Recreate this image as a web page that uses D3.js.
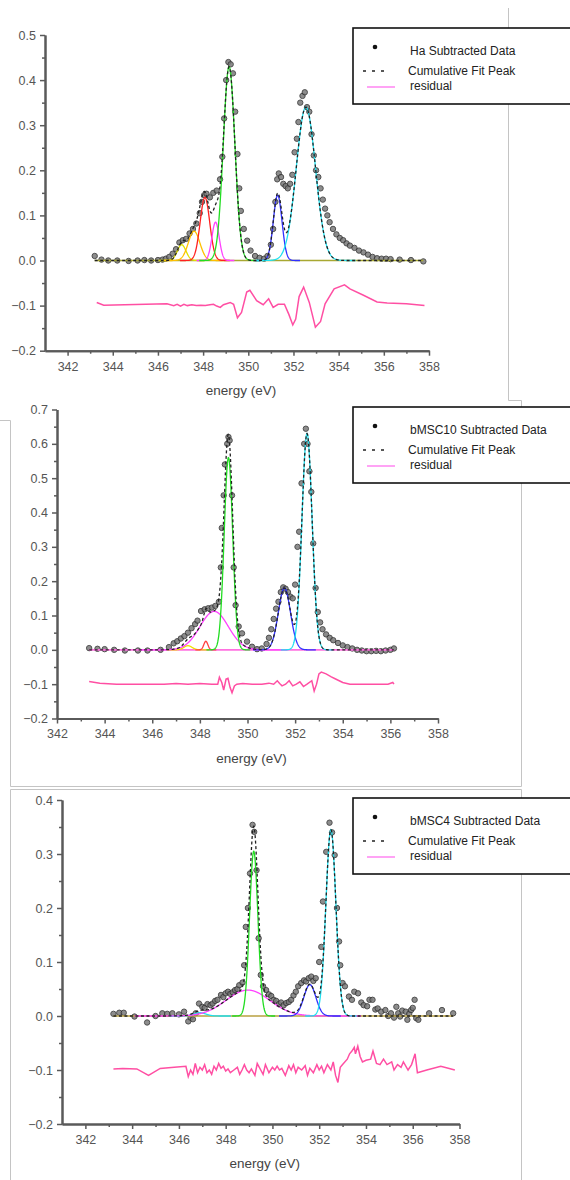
<!DOCTYPE html>
<html><head><meta charset="utf-8">
<script src="https://cdn.jsdelivr.net/npm/d3@7"></script>
<style>
body{margin:0;background:#fff;}
svg{display:block;font-family:"Liberation Sans",Arial,sans-serif;}
</style></head>
<body>
<svg id="c" width="570" height="1180"></svg>
<script>
// ---------- DATA ----------
const xTicks = [342,344,346,348,350,352,354,356,358];
const yTicks1 = [-0.2,-0.1,0.0,0.1,0.2,0.3,0.4,0.5];
const yTicks2 = [-0.2,-0.1,0.0,0.1,0.2,0.3,0.4,0.5,0.6,0.7];
const yTicks3 = [-0.2,-0.1,0.0,0.1,0.2,0.3,0.4];
const legendNames = ["Ha Subtracted Data","bMSC10 Subtracted Data","bMSC4 Subtracted Data"];
const legendFit = "Cumulative Fit Peak";
const legendRes = "residual";
const axisTitle = "energy (eV)";

// panel 1 : Ha  [energy, intensity]
const data1 = [[343.2,0.01],[343.5,0.002],[343.8,0],[344.2,0],[344.7,-0.001],[345.1,0],[345.4,0.001],[345.7,0],[346.0,0.001],[346.2,0.002],[346.35,0.004],[346.5,0.008],[346.65,0.015],[346.8,0.025],[346.95,0.04],[347.1,0.045],[347.25,0.048],[347.4,0.06],[347.55,0.07],[347.7,0.082],[347.85,0.105],[347.95,0.13],[348.05,0.145],[348.15,0.148],[348.3,0.14],[348.45,0.15],[348.6,0.155],[348.75,0.18],[348.85,0.23],[348.93,0.315],[349.02,0.4],[349.12,0.44],[349.22,0.435],[349.32,0.415],[349.42,0.33],[349.52,0.236],[349.6,0.16],[349.67,0.11],[349.8,0.07],[349.95,0.044],[350.1,0.022],[350.3,0.01],[350.5,0.006],[350.7,0.004],[350.85,0.01],[351.0,0.035],[351.1,0.07],[351.2,0.13],[351.28,0.18],[351.35,0.193],[351.45,0.185],[351.55,0.17],[351.65,0.165],[351.75,0.16],[351.85,0.17],[351.95,0.19],[352.05,0.24],[352.15,0.27],[352.22,0.307],[352.3,0.35],[352.4,0.365],[352.5,0.373],[352.6,0.34],[352.7,0.33],[352.8,0.28],[352.9,0.233],[353.0,0.2],[353.1,0.185],[353.2,0.16],[353.3,0.135],[353.4,0.115],[353.5,0.1],[353.6,0.085],[353.75,0.07],[353.9,0.058],[354.05,0.05],[354.2,0.045],[354.35,0.038],[354.5,0.033],[354.7,0.028],[354.9,0.022],[355.1,0.018],[355.3,0.013],[355.5,0.008],[355.7,0.005],[355.9,0.004],[356.1,0.004],[356.3,0.003],[356.7,0.002],[357.2,0.001],[357.75,-0.002]];
// fitted peaks [center, height, fwhm]
const peaks1 = [[347.05,0.035,0.45],[347.6,0.065,0.6],[348.08,0.14,0.5],[348.55,0.085,0.38],[349.15,0.43,0.6],[351.3,0.145,0.45],[352.55,0.34,1.0]];
const peakColors1 = ["#e0e000","#ffc000","#ff2020","#ff40ff","#22dd22","#3030ff","#20e0f0"];
const resid1 = [[343.29,-0.093],[343.6,-0.099],[346.4,-0.096],[346.7,-0.1],[346.85,-0.097],[347.0,-0.101],[347.15,-0.097],[347.3,-0.1],[347.5,-0.098],[347.7,-0.1],[347.9,-0.099],[348.1,-0.1],[348.3,-0.098],[348.46,-0.097],[348.6,-0.101],[348.76,-0.104],[348.9,-0.098],[349.2,-0.093],[349.35,-0.097],[349.52,-0.127],[349.7,-0.115],[349.93,-0.07],[350.07,-0.066],[350.37,-0.089],[350.66,-0.098],[350.9,-0.085],[351.1,-0.104],[351.32,-0.097],[351.6,-0.097],[351.8,-0.12],[351.97,-0.143],[352.1,-0.13],[352.25,-0.08],[352.45,-0.059],[352.7,-0.093],[352.97,-0.148],[353.2,-0.135],[353.4,-0.096],[353.8,-0.063],[354.26,-0.054],[354.5,-0.063],[355.1,-0.077],[355.7,-0.092],[356.15,-0.094],[357.0,-0.096],[357.8,-0.1]];

// panel 2 : bMSC10
const data2 = [[343.35,0.005],[343.7,0.003],[344.0,0.002],[344.4,0],[344.85,-0.002],[345.4,-0.002],[345.8,-0.002],[346.35,0],[346.7,0.008],[346.9,0.019],[347.05,0.025],[347.2,0.033],[347.35,0.04],[347.5,0.05],[347.65,0.063],[347.8,0.075],[347.9,0.085],[348.05,0.113],[348.2,0.118],[348.35,0.121],[348.5,0.123],[348.65,0.128],[348.8,0.14],[348.88,0.24],[348.92,0.355],[349.0,0.45],[349.05,0.54],[349.15,0.6],[349.2,0.62],[349.25,0.61],[349.35,0.45],[349.42,0.24],[349.5,0.13],[349.63,0.068],[349.77,0.048],[349.98,0.024],[350.19,0.009],[350.4,0.002],[350.6,0.004],[350.8,0.017],[350.9,0.035],[351.0,0.06],[351.1,0.09],[351.2,0.12],[351.3,0.14],[351.4,0.168],[351.5,0.182],[351.6,0.178],[351.7,0.168],[351.8,0.155],[351.9,0.15],[352.0,0.19],[352.1,0.3],[352.17,0.344],[352.27,0.485],[352.38,0.6],[352.45,0.644],[352.52,0.6],[352.6,0.52],[352.68,0.46],[352.76,0.31],[352.86,0.18],[352.95,0.11],[353.05,0.08],[353.15,0.06],[353.3,0.045],[353.45,0.035],[353.6,0.028],[353.8,0.02],[354.0,0.013],[354.2,0.008],[354.4,0.004],[354.6,0],[354.8,-0.002],[355.0,-0.004],[355.2,-0.004],[355.4,-0.003],[355.6,-0.004],[355.8,-0.002],[356.0,0],[356.15,0.004]];
const peaks2 = [[347.5,0.012,0.4],[348.25,0.025,0.2],[348.6,0.112,1.4],[349.2,0.56,0.42],[351.55,0.18,0.6],[352.5,0.63,0.5]];
const peakColors2 = ["#f0e000","#ff4040","#ff40ff","#22dd22","#3030ff","#20e0f0"];
const resid2 = [[343.35,-0.092],[343.8,-0.097],[344.5,-0.1],[345.5,-0.1],[346.5,-0.1],[347.0,-0.098],[347.5,-0.1],[348.0,-0.098],[348.5,-0.1],[348.75,-0.1],[348.82,-0.08],[348.92,-0.095],[349.0,-0.117],[349.1,-0.085],[349.18,-0.083],[349.27,-0.11],[349.35,-0.125],[349.45,-0.105],[349.55,-0.1],[349.8,-0.098],[350.2,-0.1],[350.6,-0.1],[350.9,-0.097],[351.1,-0.1],[351.25,-0.09],[351.35,-0.098],[351.45,-0.105],[351.6,-0.1],[351.75,-0.09],[351.9,-0.105],[352.05,-0.1],[352.2,-0.093],[352.35,-0.107],[352.5,-0.1],[352.7,-0.09],[352.8,-0.12],[352.9,-0.1],[353.0,-0.07],[353.1,-0.065],[353.3,-0.07],[353.5,-0.078],[353.7,-0.085],[354.0,-0.095],[354.3,-0.1],[354.6,-0.1],[355.0,-0.1],[355.5,-0.1],[355.9,-0.1],[356.1,-0.095],[356.15,-0.1]];

// panel 3 : bMSC4
const data3 = [[343.2,0.004],[343.45,0.006],[343.64,0.006],[344.1,-0.001],[344.64,-0.012],[345.0,0],[345.29,0.005],[345.5,0.004],[345.72,0.005],[346.0,0.003],[346.22,0.008],[346.4,-0.01],[346.5,-0.003],[346.6,-0.006],[346.72,0.005],[346.86,0.023],[347.0,0.017],[347.1,0.015],[347.22,0.022],[347.35,0.02],[347.44,0.023],[347.55,0.028],[347.65,0.03],[347.8,0.039],[347.9,0.035],[348.0,0.042],[348.1,0.045],[348.2,0.041],[348.3,0.044],[348.4,0.048],[348.5,0.05],[348.58,0.057],[348.72,0.062],[348.79,0.094],[348.86,0.165],[348.95,0.2],[349.04,0.264],[349.15,0.354],[349.22,0.341],[349.32,0.27],[349.41,0.144],[349.5,0.076],[349.6,0.055],[349.73,0.048],[349.85,0.04],[349.95,0.037],[350.05,0.03],[350.16,0.028],[350.27,0.022],[350.37,0.025],[350.48,0.02],[350.59,0.024],[350.7,0.026],[350.8,0.03],[350.9,0.038],[351.0,0.045],[351.1,0.055],[351.23,0.061],[351.35,0.066],[351.44,0.064],[351.55,0.07],[351.66,0.073],[351.75,0.065],[351.85,0.07],[352.0,0.1],[352.09,0.128],[352.16,0.212],[352.3,0.304],[352.44,0.358],[352.55,0.34],[352.66,0.298],[352.76,0.2],[352.85,0.138],[352.9,0.094],[353.0,0.061],[353.1,0.055],[353.27,0.036],[353.4,0.03],[353.5,0.045],[353.66,0.042],[353.8,0.025],[353.9,0.02],[354.05,0.018],[354.15,0.03],[354.28,0.03],[354.4,0.012],[354.5,0.014],[354.65,0.008],[354.83,0.011],[354.95,0],[355.07,0.005],[355.2,-0.003],[355.3,0.017],[355.38,0.005],[355.46,-0.001],[355.55,0.01],[355.7,0.008],[355.77,-0.007],[355.85,0.004],[355.93,0.011],[356.0,0.015],[356.08,0.03],[356.15,-0.004],[356.24,-0.007],[356.7,0.005],[357.25,0.011],[357.73,0.005]];
const peaks3 = [[346.9,0.006,0.6],[348.95,0.048,2.2],[349.2,0.305,0.42],[351.6,0.058,0.6],[352.5,0.345,0.5]];
const peakColors3 = ["#20e0f0","#ff40ff","#22dd22","#3030ff","#20e0f0"];
const resid3 = [[343.2,-0.098],[343.6,-0.097],[344.2,-0.098],[344.7,-0.11],[345.2,-0.097],[345.8,-0.095],[346.3,-0.093],[346.4,-0.112],[346.5,-0.1],[346.6,-0.108],[346.7,-0.088],[346.8,-0.105],[346.9,-0.095],[347.0,-0.1],[347.1,-0.09],[347.2,-0.105],[347.3,-0.1],[347.4,-0.108],[347.5,-0.093],[347.6,-0.1],[347.7,-0.088],[347.8,-0.097],[347.9,-0.093],[348.0,-0.102],[348.1,-0.098],[348.2,-0.105],[348.35,-0.1],[348.5,-0.095],[348.6,-0.108],[348.7,-0.1],[348.8,-0.09],[348.9,-0.1],[349.0,-0.105],[349.1,-0.098],[349.25,-0.11],[349.35,-0.088],[349.5,-0.1],[349.6,-0.108],[349.7,-0.09],[349.85,-0.105],[350.0,-0.095],[350.1,-0.1],[350.2,-0.093],[350.3,-0.1],[350.4,-0.097],[350.55,-0.11],[350.7,-0.092],[350.8,-0.1],[350.9,-0.09],[351.0,-0.105],[351.1,-0.095],[351.25,-0.1],[351.4,-0.092],[351.5,-0.11],[351.6,-0.097],[351.75,-0.105],[351.9,-0.09],[352.0,-0.1],[352.1,-0.093],[352.2,-0.105],[352.35,-0.09],[352.5,-0.1],[352.6,-0.085],[352.7,-0.11],[352.8,-0.123],[352.9,-0.095],[353.0,-0.09],[353.2,-0.08],[353.3,-0.07],[353.4,-0.065],[353.5,-0.058],[353.55,-0.07],[353.65,-0.056],[353.75,-0.075],[353.85,-0.085],[354.0,-0.082],[354.2,-0.08],[354.3,-0.065],[354.45,-0.088],[354.6,-0.09],[354.75,-0.08],[354.9,-0.09],[355.1,-0.085],[355.2,-0.1],[355.35,-0.09],[355.5,-0.095],[355.6,-0.085],[355.8,-0.1],[355.95,-0.09],[356.1,-0.07],[356.2,-0.105],[356.6,-0.1],[357.2,-0.093],[357.8,-0.1]];

// ---------- DRAW ----------
const svg = d3.select("#c");
const gauss = (p, x) => p[1] * Math.exp(-4 * Math.LN2 * (x - p[0]) ** 2 / (p[2] * p[2]));

// image frames (screenshot borders)
const frame = svg.append("g").attr("fill","none").attr("stroke","#c4c4c4").attr("stroke-width",1);
frame.append("path").attr("d","M508.5,8 V400.5 H521.5 V786.5 H10.5 V420.5 H0");
frame.append("path").attr("d","M10.5,1180 V789.5 H521.5 V1180");

function panel(cfg){
  const {data, peaks, colors, resid, x0, x1, xd0, y0, y1, yd1, yTicks, base, leg, name} = cfg;
  const x = d3.scaleLinear().domain([xd0,358]).range([x0,x1]);
  const y = d3.scaleLinear().domain([-0.2,yd1]).range([y0,y1]);
  const g = svg.append("g");
  const xmin = d3.min(data,d=>d[0]), xmax = d3.max(data,d=>d[0]);

  // axes
  const xa = g.append("g").attr("transform",`translate(0,${y0})`)
    .call(d3.axisBottom(x).tickValues(xTicks).tickSize(5).tickSizeOuter(0).tickPadding(6).tickFormat(d3.format("d")));
  const xm = g.append("g").attr("transform",`translate(0,${y0})`)
    .call(d3.axisBottom(x).tickValues(d3.range(343,358,2)).tickSize(3).tickSizeOuter(0).tickFormat(""));
  const ya = g.append("g").attr("transform",`translate(${x0},0)`)
    .call(d3.axisLeft(y).tickValues(yTicks).tickSize(5).tickSizeOuter(0).tickPadding(4).tickFormat(d3.format(".1f")));
  const ym = g.append("g").attr("transform",`translate(${x0},0)`)
    .call(d3.axisLeft(y).tickValues(yTicks.slice(0,-1).map(v=>+(v+0.05).toFixed(2))).tickSize(3).tickSizeOuter(0).tickFormat(""));
  [xa,xm,ya,ym].forEach(a=>{
    a.select(".domain").attr("stroke","#5a5a5a").attr("stroke-width",2);
    a.selectAll(".tick line").attr("stroke","#5a5a5a").attr("stroke-width",1.5);
    a.selectAll("text").attr("fill","#555").attr("font-size",12.5).attr("font-family","Liberation Sans, Arial, sans-serif");
  });
  g.append("text").attr("x",(x0+x1)/2 + 4).attr("y",y0+44).attr("text-anchor","middle")
    .attr("font-size",13.5).attr("fill","#444").text(axisTitle);

  // data points
  g.append("g").selectAll("circle").data(data).join("circle")
    .attr("cx",d=>x(d[0])).attr("cy",d=>y(d[1])).attr("r",2.7)
    .attr("fill","#7a7a7a").attr("stroke","#333").attr("stroke-width",1).attr("opacity",0.85);

  // baseline
  g.append("line").attr("x1",x(xmin)).attr("x2",x(xmax)).attr("y1",y(0)).attr("y2",y(0))
    .attr("stroke",base).attr("stroke-width",1.6);

  // components
  const line = d3.line().x(d=>x(d[0])).y(d=>y(d[1]));
  peaks.forEach((p,i)=>{
    const lo = Math.max(xmin, p[0]-2.2*p[2]), hi = Math.min(xmax, p[0]+2.2*p[2]);
    const pts = d3.range(lo, hi+1e-9, 0.01).map(e=>[e, gauss(p,e)]);
    g.append("path").attr("d",line(pts)).attr("fill","none").attr("stroke",colors[i]).attr("stroke-width",1.3);
  });
  // cumulative fit
  const fit = d3.range(xmin, xmax+1e-9, 0.01).map(e=>[e, d3.sum(peaks,p=>gauss(p,e))]);
  g.append("path").attr("d",line(fit)).attr("fill","none").attr("stroke","#222")
    .attr("stroke-width",1.3).attr("stroke-dasharray","3,2.5");
  // residual
  g.append("path").attr("d",line(resid)).attr("fill","none").attr("stroke","#ff4fa3").attr("stroke-width",1.5);

  // legend
  const L = g.append("g");
  L.append("rect").attr("x",353).attr("y",leg.top).attr("width",240).attr("height",76)
    .attr("fill","#fff").attr("stroke","#111").attr("stroke-width",1.6);
  L.append("circle").attr("cx",375).attr("cy",leg.top+19).attr("r",2.3).attr("fill","#111");
  L.append("text").attr("x",410).attr("y",leg.top+27).attr("font-size",12).attr("fill","#222").text(name);
  L.append("line").attr("x1",363).attr("x2",389).attr("y1",leg.top+43).attr("y2",leg.top+43)
    .attr("stroke","#222").attr("stroke-width",1.5).attr("stroke-dasharray","3,6");
  L.append("text").attr("x",408).attr("y",leg.top+47).attr("font-size",12).attr("fill","#222").text(legendFit);
  L.append("line").attr("x1",367).attr("x2",395).attr("y1",leg.top+59).attr("y2",leg.top+59)
    .attr("stroke","#ff66ee").attr("stroke-width",1.2);
  L.append("text").attr("x",410).attr("y",leg.top+62).attr("font-size",12).attr("fill","#222").text(legendRes);
}

panel({data:data1, peaks:peaks1, colors:peakColors1, resid:resid1, x0:45, x1:429, xd0:341, y0:350.7, y1:35, yd1:0.5, yTicks:yTicks1, base:"#a8a832", leg:{top:28}, name:legendNames[0]});
panel({data:data2, peaks:peaks2, colors:peakColors2, resid:resid2, x0:57, x1:438, xd0:342, y0:718.5, y1:409.5, yd1:0.7, yTicks:yTicks2, base:"#ff70e0", leg:{top:407}, name:legendNames[1]});
panel({data:data3, peaks:peaks3, colors:peakColors3, resid:resid3, x0:62, x1:459.5, xd0:341, y0:1124, y1:800, yd1:0.4, yTicks:yTicks3, base:"#b8a040", leg:{top:798}, name:legendNames[2]});
</script>
</body></html>
